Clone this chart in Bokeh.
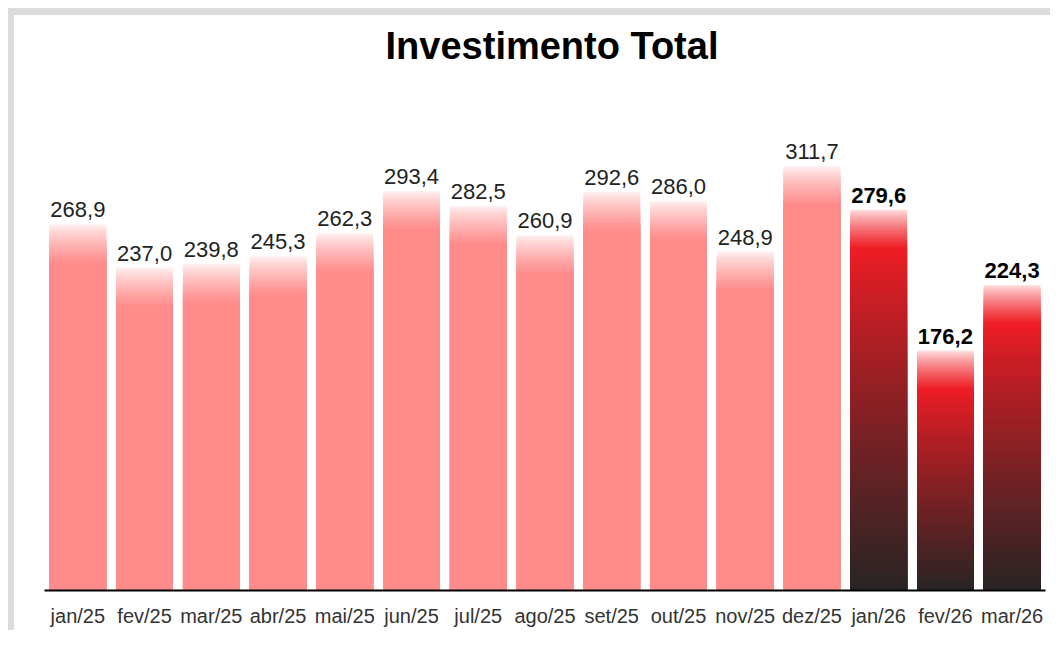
import numpy as np
from bokeh.plotting import figure
from bokeh.models import ColumnDataSource, Range1d, Label
from bokeh.embed import file_html
from bokeh.resources import INLINE
from bokeh.core.properties import value

# ---- data ----
months = ["jan/25", "fev/25", "mar/25", "abr/25", "mai/25", "jun/25", "jul/25",
          "ago/25", "set/25", "out/25", "nov/25", "dez/25", "jan/26", "fev/26", "mar/26"]
values = [268.9, 237.0, 239.8, 245.3, 262.3, 293.4, 282.5, 260.9, 292.6,
          286.0, 248.9, 311.7, 279.6, 176.2, 224.3]
highlight = [False] * 12 + [True] * 3
title_text = "Investimento Total"

# ---- style ----
PINK = np.array([255, 139, 139])
PINK_TOP = np.array([255, 240, 240])
RED = np.array([238, 28, 36])
RED_TOP = np.array([255, 222, 222])
DARK = np.array([42, 36, 36])
FADE = 29.0   # data units of the light fade at the top of every bar
NF = 24
NB = 70
WIDTH = 0.85


def hexc(c):
    c = np.clip(np.round(c), 0, 255).astype(int)
    return "#%02x%02x%02x" % tuple(c)


xs, tops, cols = [], [], []
for m, v, h in zip(months, values, highlight):
    top_c = RED_TOP if h else PINK_TOP
    mid_c = RED if h else PINK
    for k in range(NF):
        t = k / (NF - 1)
        xs.append(m)
        tops.append(v - FADE * k / NF)
        cols.append(hexc(top_c + (mid_c - top_c) * t ** 0.8))
    body_top = v - FADE
    if h:
        for k in range(NB):
            t = k / (NB - 1)
            xs.append(m)
            tops.append(body_top * (1 - k / NB))
            cols.append(hexc(RED + (DARK - RED) * t ** 0.85))
    else:
        xs.append(m)
        tops.append(body_top)
        cols.append(hexc(PINK))

seg = ColumnDataSource(dict(x=xs, top=tops, color=cols))

p = figure(x_range=months, y_range=Range1d(0, 420), width=1042, height=622,
           output_backend="svg", toolbar_location=None,
           min_border_left=30, min_border_right=11, min_border_top=3,
           min_border_bottom=47)
p.styles = {"margin-top": "8px", "margin-left": "8px",
            "border-top": "7px solid #dcdcdc", "border-left": "6px solid #dcdcdc"}

p.vbar(x="x", bottom=0, top="top", width=WIDTH, fill_color="color",
       line_color=None, source=seg)

labels = [f"{v:.1f}".replace(".", ",") for v in values]
norm = ColumnDataSource(dict(x=[m for m, h in zip(months, highlight) if not h],
                             y=[v for v, h in zip(values, highlight) if not h],
                             t=[l for l, h in zip(labels, highlight) if not h]))
bold = ColumnDataSource(dict(x=[m for m, h in zip(months, highlight) if h],
                             y=[v for v, h in zip(values, highlight) if h],
                             t=[l for l, h in zip(labels, highlight) if h]))
p.text(x="x", y="y", text="t", source=norm, text_align="center",
       text_baseline="bottom", y_offset=-7, text_font=value("Liberation Sans"),
       text_font_size="22px", text_color="#222222")
p.text(x="x", y="y", text="t", source=bold, text_align="center",
       text_baseline="bottom", y_offset=-7, text_font=value("Liberation Sans"),
       text_font_size="22px", text_font_style="bold", text_color="#000000")

p.add_layout(Label(x=7.5, y=399.5, text=title_text, text_align="center",
                   text_baseline="alphabetic", x_offset=7,
                   text_font="Liberation Sans", text_font_size="38px",
                   text_font_style="bold", text_color="#000000"))

p.xgrid.grid_line_color = None
p.ygrid.grid_line_color = None
p.yaxis.visible = False
p.outline_line_color = None
p.xaxis.axis_line_color = "#000000"
p.xaxis.axis_line_width = 2
p.xaxis.major_tick_line_color = None
p.xaxis.minor_tick_line_color = None
p.xaxis.major_label_standoff = 8
p.xaxis.major_label_text_font = "Liberation Sans"
p.xaxis.major_label_text_font_size = "20px"
p.xaxis.major_label_text_color = "#333333"
p.x_range.range_padding = 0

open("out.html", "w").write(file_html(p, INLINE))
